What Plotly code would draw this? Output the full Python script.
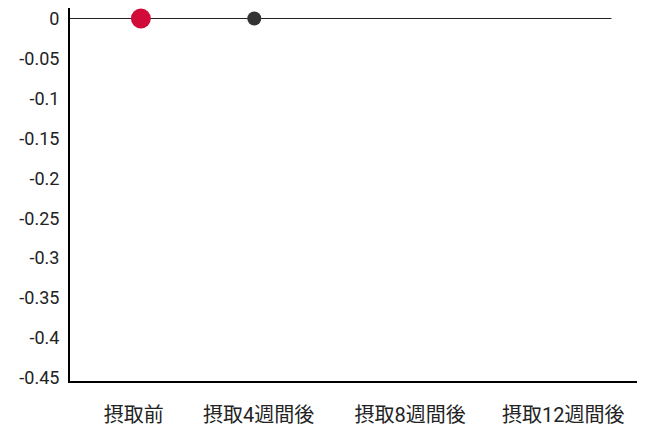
import plotly.graph_objects as go

# x positions of the time-point labels (axis units, one unit per slot)
tick_pos = [-0.05, 0.83, 1.9, 2.98]
tick_text = ["摂取前", "摂取4週間後", "摂取8週間後", "摂取12週間後"]
y_ticks = [0, -0.05, -0.1, -0.15, -0.2, -0.25, -0.3, -0.35, -0.4, -0.45]

# baseline reference line
base_x = [-0.5, 3.32]
base_y = [0, 0]

# measured points
point_x = [0, 0.8]
point_y = [0, 0]
point_size = [20, 14]
point_color = ["#d20a3a", "#333333"]

fig = go.Figure()

fig.add_trace(go.Scatter(
    x=base_x, y=base_y, mode="lines",
    line=dict(color="#222222", width=1),
    hoverinfo="skip", showlegend=False,
))

fig.add_trace(go.Scatter(
    x=point_x, y=point_y, mode="markers",
    marker=dict(size=point_size, color=point_color, opacity=1, line=dict(width=0)),
    showlegend=False,
))

# page body adds an 8px margin, so the figure is sized/offset to compensate
fig.update_layout(
    width=658, height=433,
    margin=dict(l=62, r=29, t=0, b=60),
    paper_bgcolor="white", plot_bgcolor="white",
    font=dict(family="Roboto, Noto Sans CJK JP, sans-serif", size=18, color="#222222"),
    xaxis=dict(
        range=[-0.5, 3.5], tickvals=tick_pos, ticktext=tick_text,
        showgrid=False, zeroline=False, showline=True,
        linecolor="black", linewidth=2, ticks="",
        ticklabelstandoff=15,
        tickfont=dict(family="Roboto, Noto Sans CJK JP, sans-serif", size=20, color="#222222"),
    ),
    yaxis=dict(
        range=[-0.45375, 0.013125], tickvals=y_ticks,
        ticktext=[str(v) for v in y_ticks],
        showgrid=False, zeroline=False, showline=True,
        linecolor="black", linewidth=2, ticks="",
        ticklabelstandoff=5, ticklabeloverflow="allow",
        tickfont=dict(family="Roboto, sans-serif", size=18, color="#222222"),
    ),
)

fig.write_html("out.html")
